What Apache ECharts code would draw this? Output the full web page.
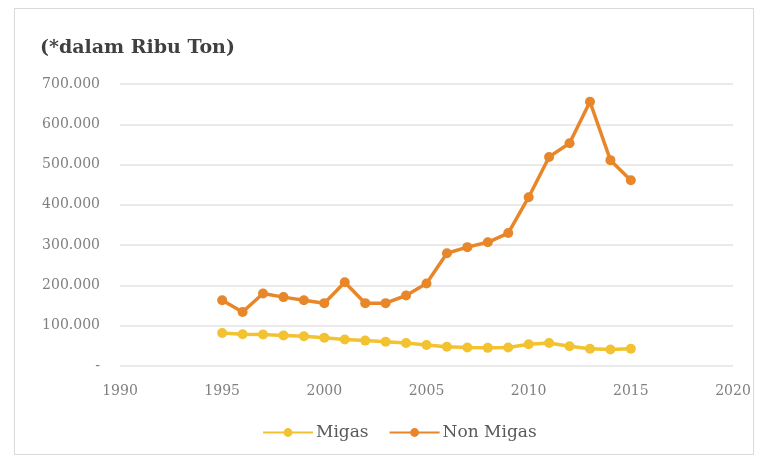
<!DOCTYPE html>
<html>
<head>
<meta charset="utf-8">
<script src="https://cdn.jsdelivr.net/npm/echarts@6/dist/echarts.min.js"></script>
<style>
html,body{margin:0;padding:0;background:#fff;}
#wrap{position:absolute;left:14px;top:8px;width:740px;height:447px;border:1px solid #d9d9d9;box-sizing:border-box;}
#chart{position:absolute;left:0;top:0;width:769px;height:463px;}
</style>
</head>
<body>
<div id="wrap"></div>
<div id="chart"></div>
<script>
const years = [1995,1996,1997,1998,1999,2000,2001,2002,2003,2004,2005,2006,2007,2008,2009,2010,2011,2012,2013,2014,2015];
const migas = [82000,79000,78000,76000,74000,70000,66000,63000,60000,57000,52000,48000,46000,45000,46000,54000,57000,49000,43000,41000,43000];
const nonMigas = [163000,134000,180000,171000,163000,156000,208000,156000,156000,175000,205000,280000,295000,307000,330000,419000,519000,553000,656000,511000,461000];
const seriesNames = ['Migas','Non Migas'];
const titleText = '(*dalam Ribu Ton)';

const chart = echarts.init(document.getElementById('chart'));
const pairs = arr => years.map((y,i)=>[y,arr[i]]);
const fmt = v => v === 0 ? '-' : String(v).replace(/\B(?=(\d{3})+(?!\d))/g,'.');
chart.setOption({
  animation:false,
  backgroundColor:'transparent',
  title:{text:titleText,left:35,top:34,textStyle:{fontFamily:'DejaVu Serif',fontSize:19,fontWeight:'bold',color:'#404040'}},
  legend:{bottom:17,left:257,itemWidth:50,itemHeight:11,itemGap:20,
    textStyle:{fontFamily:'DejaVu Serif',fontSize:17,color:'#595959',padding:[0,0,0,-2]},
    data:seriesNames},
  grid:{left:120,right:36,top:84,bottom:97},
  xAxis:{type:'value',min:1990,max:2020,interval:5,
    axisLine:{show:false},axisTick:{show:false},splitLine:{show:false},
    axisLabel:{margin:18,fontFamily:'DejaVu Serif',fontSize:14,color:'#7f7f7f',formatter:v=>String(v)}},
  yAxis:{type:'value',min:0,max:700000,interval:100000,
    axisLine:{show:false},axisTick:{show:false},
    splitLine:{lineStyle:{color:'#e3e3e3',width:1.5}},
    axisLabel:{margin:20,fontFamily:'DejaVu Serif',fontSize:14,color:'#7f7f7f',formatter:fmt}},
  series:[
    {name:seriesNames[0],type:'line',data:pairs(migas),symbol:'circle',symbolSize:10,
      lineStyle:{width:3.5,color:'#f2c230'},itemStyle:{color:'#f2c230'}},
    {name:seriesNames[1],type:'line',data:pairs(nonMigas),symbol:'circle',symbolSize:10,
      lineStyle:{width:3.5,color:'#e8862a'},itemStyle:{color:'#e8862a'}}
  ]
});
</script>
</body>
</html>
